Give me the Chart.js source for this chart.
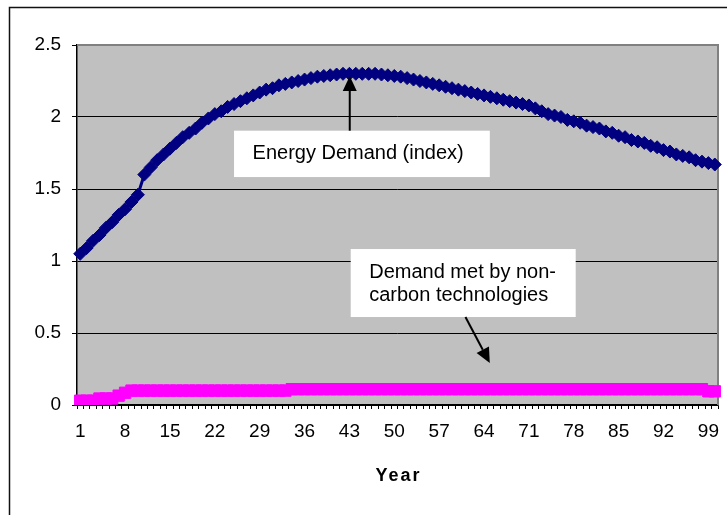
<!DOCTYPE html>
<html>
<head>
<meta charset="utf-8">
<script src="https://cdn.jsdelivr.net/npm/chart.js@4.4.0/dist/chart.umd.min.js"></script>
<style>
  html, body { margin: 0; padding: 0; background: #fff; }
  #wrap { position: relative; width: 727px; height: 515px; }
</style>
</head>
<body>
<div id="wrap"><canvas id="chart"></canvas></div>
<script>
// categories: year 1..100
const years = [
  1, 2, 3, 4, 5, 6, 7, 8, 9, 10, 11, 12, 13, 14, 15, 16, 17, 18, 19, 20,
  21, 22, 23, 24, 25, 26, 27, 28, 29, 30, 31, 32, 33, 34, 35, 36, 37, 38, 39, 40,
  41, 42, 43, 44, 45, 46, 47, 48, 49, 50, 51, 52, 53, 54, 55, 56, 57, 58, 59, 60,
  61, 62, 63, 64, 65, 66, 67, 68, 69, 70, 71, 72, 73, 74, 75, 76, 77, 78, 79, 80,
  81, 82, 83, 84, 85, 86, 87, 88, 89, 90, 91, 92, 93, 94, 95, 96, 97, 98, 99, 100
];

const energyDemand = [
  1.05, 1.09, 1.14, 1.18, 1.23, 1.27, 1.32, 1.36, 1.41, 1.46,
  1.60, 1.65, 1.70, 1.74, 1.78, 1.82, 1.86, 1.89, 1.92, 1.96,
  1.99, 2.02, 2.04, 2.07, 2.09, 2.11, 2.13, 2.15, 2.17, 2.19,
  2.20, 2.22, 2.23, 2.24, 2.25, 2.26, 2.27, 2.28, 2.285, 2.29,
  2.295, 2.30, 2.30, 2.30, 2.30, 2.30, 2.30, 2.295, 2.29, 2.285,
  2.28, 2.27, 2.26, 2.25, 2.24, 2.23, 2.22, 2.21, 2.20, 2.19,
  2.18, 2.17, 2.16, 2.15, 2.14, 2.13, 2.12, 2.11, 2.10, 2.09,
  2.08, 2.06, 2.04, 2.02, 2.01, 2.00, 1.98, 1.97, 1.96, 1.94,
  1.93, 1.92, 1.90, 1.89, 1.87, 1.86, 1.84, 1.83, 1.82, 1.80,
  1.79, 1.77, 1.76, 1.74, 1.73, 1.72, 1.70, 1.69, 1.68, 1.67
];

const nonCarbon = [
  0.03, 0.03, 0.03, 0.045, 0.045, 0.045, 0.065, 0.085, 0.10, 0.10,
  0.10, 0.10, 0.10, 0.10, 0.10, 0.10, 0.10, 0.10, 0.10, 0.10,
  0.10, 0.10, 0.10, 0.10, 0.10, 0.10, 0.10, 0.10, 0.10, 0.10,
  0.10, 0.10, 0.10, 0.11, 0.11, 0.11, 0.11, 0.11, 0.11, 0.11,
  0.11, 0.11, 0.11, 0.11, 0.11, 0.11, 0.11, 0.11, 0.11, 0.11,
  0.11, 0.11, 0.11, 0.11, 0.11, 0.11, 0.11, 0.11, 0.11, 0.11,
  0.11, 0.11, 0.11, 0.11, 0.11, 0.11, 0.11, 0.11, 0.11, 0.11,
  0.11, 0.11, 0.11, 0.11, 0.11, 0.11, 0.11, 0.11, 0.11, 0.11,
  0.11, 0.11, 0.11, 0.11, 0.11, 0.11, 0.11, 0.11, 0.11, 0.11,
  0.11, 0.11, 0.11, 0.11, 0.11, 0.11, 0.11, 0.11, 0.095, 0.095
];

const shownTicks = [1, 8, 15, 22, 29, 36, 43, 50, 57, 64, 71, 78, 85, 92, 99];
const xTitle = 'Year';

const FONT = "'Liberation Sans', Arial, sans-serif";

// callouts, in data coordinates (x = category index, y = value)
const callouts = [
  { text: ['Energy Demand (index)'], box: [24.0, 1.905, 63.9, 1.583],
    arrow: [42.05, 1.905, 42.05, 2.285] },
  { text: ['Demand met by non-', 'carbon technologies'], box: [42.2, 1.083, 77.3, 0.611],
    arrow: [60.1, 0.611, 63.9, 0.292] }
];

function arrow(ctx, x1, y1, x2, y2) {
  const ang = Math.atan2(y2 - y1, x2 - x1);
  const len = 15, half = 7;
  const bx = x2 - Math.cos(ang) * len, by = y2 - Math.sin(ang) * len;
  ctx.beginPath();
  ctx.moveTo(x1, y1);
  ctx.lineTo(bx, by);
  ctx.stroke();
  ctx.beginPath();
  ctx.moveTo(x2, y2);
  ctx.lineTo(bx - Math.sin(ang) * half, by + Math.cos(ang) * half);
  ctx.lineTo(bx + Math.sin(ang) * half, by - Math.cos(ang) * half);
  ctx.closePath();
  ctx.fill();
}

const excelFrame = {
  id: 'excelFrame',
  beforeDraw(chart) {
    const { ctx, chartArea: a } = chart;
    ctx.save();
    ctx.fillStyle = '#c0c0c0';
    ctx.fillRect(a.left, a.top, a.right - a.left, a.bottom - a.top);
    // outer chart frame
    ctx.strokeStyle = '#111';
    ctx.lineWidth = 1.5;
    ctx.beginPath();
    ctx.moveTo(9.5, 515);
    ctx.lineTo(9.5, 7.5);
    ctx.lineTo(727, 7.5);
    ctx.stroke();
    ctx.restore();
  },
  beforeDatasetsDraw(chart) {
    const { ctx, chartArea: a } = chart;
    ctx.save();
    ctx.strokeStyle = '#808080';
    ctx.lineWidth = 2;
    ctx.beginPath();
    ctx.moveTo(a.left, a.top);
    ctx.lineTo(a.right, a.top);
    ctx.lineTo(a.right, a.bottom);
    ctx.stroke();
    ctx.restore();
  },
  afterDraw(chart) {
    const { ctx, chartArea: a } = chart;
    const xs = chart.scales.x, ys = chart.scales.y;
    ctx.save();
    callouts.forEach(c => {
      const l = xs.getPixelForValue(c.box[0]), t = ys.getPixelForValue(c.box[1]);
      const r = xs.getPixelForValue(c.box[2]), b = ys.getPixelForValue(c.box[3]);
      ctx.fillStyle = '#fff';
      ctx.fillRect(l, t, r - l, b - t);
      ctx.fillStyle = '#000';
      ctx.font = '20px ' + FONT;
      ctx.textAlign = 'left';
      ctx.textBaseline = 'alphabetic';
      c.text.forEach((s, i) => ctx.fillText(s, l + 18.5, t + 28.5 + i * 23));
      ctx.strokeStyle = '#000';
      ctx.lineWidth = 2;
      arrow(ctx, xs.getPixelForValue(c.arrow[0]), ys.getPixelForValue(c.arrow[1]),
        xs.getPixelForValue(c.arrow[2]), ys.getPixelForValue(c.arrow[3]));
    });
    // axis title, letter-spaced like the original
    ctx.font = 'bold 18px ' + FONT;
    ctx.letterSpacing = '2px';
    ctx.textAlign = 'center';
    ctx.textBaseline = 'middle';
    ctx.fillStyle = '#000';
    ctx.fillText(xTitle, (a.left + a.right) / 2 + 1, 476);
    ctx.restore();
  }
};

new Chart(document.getElementById('chart'), {
  type: 'line',
  data: {
    labels: years,
    datasets: [{
      label: 'Energy Demand (index)',
      data: energyDemand,
      borderColor: '#000080',
      backgroundColor: '#000080',
      borderWidth: 3,
      pointStyle: 'rectRot',
      pointRadius: 6.5,
      pointBorderWidth: 1,
      tension: 0
    }, {
      label: 'Demand met by non-carbon technologies',
      data: nonCarbon,
      borderColor: '#ff00ff',
      backgroundColor: '#ff00ff',
      borderWidth: 3,
      pointStyle: 'rect',
      pointRadius: 8,
      pointBorderWidth: 1,
      tension: 0
    }]
  },
  options: {
    responsive: true,
    maintainAspectRatio: false,
    animation: false,
    layout: { padding: { top: 45, right: 6, left: 0, bottom: 0 } },
    plugins: { legend: { display: false }, tooltip: { enabled: false } },
    scales: {
      x: {
        offset: true,
        grid: { offset: true, drawOnChartArea: false, tickLength: 4, color: '#000', lineWidth: 1 },
        border: { color: '#000', width: 1.5 },
        ticks: {
          autoSkip: false, maxRotation: 0, padding: 11, color: '#000',
          font: { family: FONT, size: 19 },
          callback: (v, i) => shownTicks.includes(years[i]) ? String(years[i]) : ''
        },
        title: { display: false },
        afterFit(scale) { scale.height = 110; }
      },
      y: {
        min: 0,
        max: 2.5,
        ticks: {
          stepSize: 0.5, padding: 11, color: '#000',
          font: { family: FONT, size: 19 },
          callback: v => String(v)
        },
        grid: { color: '#000', lineWidth: 1, tickLength: 5 },
        border: { color: '#000', width: 1.5 },
        afterFit(scale) { scale.width = 77; }
      }
    }
  },
  plugins: [excelFrame]
});
</script>
</body>
</html>
